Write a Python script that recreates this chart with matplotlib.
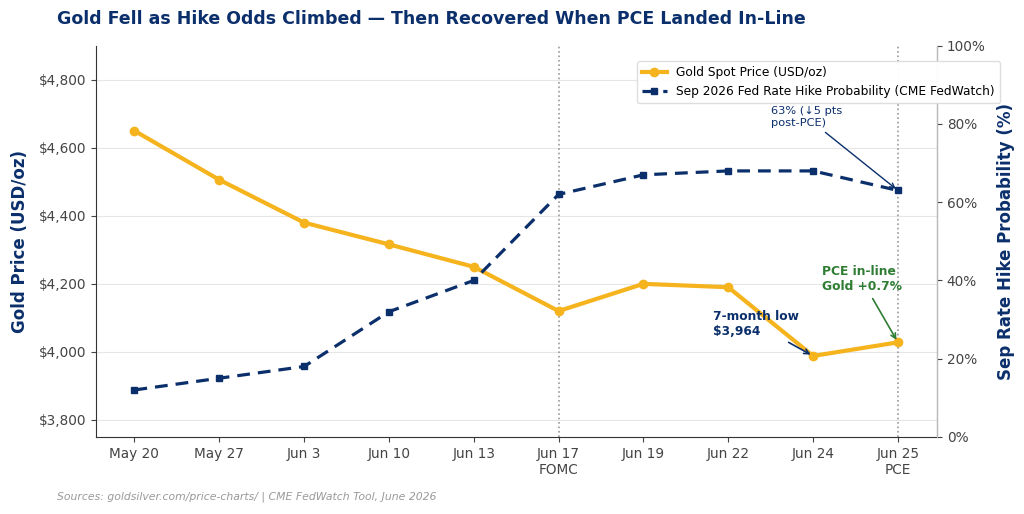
import matplotlib
matplotlib.use("Agg")
import matplotlib.pyplot as plt
from matplotlib.ticker import FuncFormatter

dates = ["May 20", "May 27", "Jun 3", "Jun 10", "Jun 13", "Jun 17\nFOMC", "Jun 19", "Jun 22", "Jun 24", "Jun 25\nPCE"]
gold = [4650, 4506, 4380, 4316, 4250, 4120, 4200, 4190, 3988, 4028]
hike = [12, 15, 18, 32, 40, 62, 67, 68, 68, 63]

GOLD = "#F5B41E"
NAVY = "#0B2F6B"
GREEN = "#2E7D32"

plt.rcParams['font.family'] = ['DejaVu Sans']
fig = plt.figure(figsize=(10.24, 5.14), dpi=100)
ax = fig.add_axes([0.094, 0.150, 0.821, 0.761])
ax2 = ax.twinx()

x = list(range(len(dates)))
l1, = ax.plot(x, gold, color=GOLD, lw=3, marker='o', ms=6, label="Gold Spot Price (USD/oz)", zorder=3)
l2, = ax2.plot(x, hike, color=NAVY, lw=2.3, ls=(0, (4, 2.5)), marker='s', ms=5, label="Sep 2026 Fed Rate Hike Probability (CME FedWatch)", zorder=3)

ax.set_xlim(-0.45, 9.46)
ax.set_ylim(3750, 4900)
ax2.set_ylim(0, 100)
ax.set_yticks([3800, 4000, 4200, 4400, 4600, 4800])
ax.yaxis.set_major_formatter(FuncFormatter(lambda v, p: f"${v:,.0f}"))
ax2.set_yticks([0, 20, 40, 60, 80, 100])
ax2.yaxis.set_major_formatter(FuncFormatter(lambda v, p: f"{v:.0f}%"))
ax.set_xticks(x)
ax.set_xticklabels(dates)

ax.grid(axis='y', color='#e6e6e6', lw=0.8)
ax.set_axisbelow(True)
for xi in (5, 9):
    ax.axvline(xi, color='#999999', ls=':', lw=1.2, zorder=1)

for a in (ax, ax2):
    a.spines['top'].set_visible(False)
    a.tick_params(colors='#444444', labelsize=9.8)
ax.spines['left'].set_color('#333333')
ax.spines['bottom'].set_color('#333333')
ax2.spines['left'].set_visible(False)
ax2.spines['bottom'].set_visible(False)
ax2.spines['right'].set_color('#bbbbbb')

ax.set_ylabel("Gold Price (USD/oz)", color=NAVY, fontsize=12, fontweight='bold', labelpad=7)
ax2.set_ylabel("Sep Rate Hike Probability (%)", color=NAVY, fontsize=12, fontweight='bold', labelpad=8)

fig.text(0.056, 0.963, "Gold Fell as Hike Odds Climbed — Then Recovered When PCE Landed In-Line",
         color=NAVY, fontsize=12.5, fontweight='bold', va='center', ha='left')
fig.text(0.056, 0.033, "Sources: goldsilver.com/price-charts/ | CME FedWatch Tool, June 2026",
         color='#999999', fontsize=7.8, style='italic', va='center', ha='left')

ax.annotate("7-month low\n$3,964", xy=(8, gold[8]), xytext=(6.82, 4040),
            color=NAVY, fontsize=8.8, fontweight='bold', ha='left', va='bottom',
            arrowprops=dict(arrowstyle='->', color=NAVY, lw=1.2))
ax.annotate("PCE in-line\nGold +0.7%", xy=(9, gold[9]), xytext=(8.1, 4172),
            color=GREEN, fontsize=8.8, fontweight='bold', ha='left', va='bottom',
            arrowprops=dict(arrowstyle='->', color=GREEN, lw=1.2))
ax2.annotate("63% (↓5 pts\npost-PCE)", xy=(9, hike[9]), xytext=(7.5, 79),
             color=NAVY, fontsize=8.2, ha='left', va='bottom',
             arrowprops=dict(arrowstyle='->', color=NAVY, lw=1.0))

leg = ax2.legend(handles=[l1, l2], loc='upper right', bbox_to_anchor=(1.075, 0.96), fontsize=8.8,
                 frameon=True, framealpha=0.95, edgecolor='#dddddd', borderpad=0.4,
                 handlelength=2.0, borderaxespad=0.0)

fig.savefig("out.png", dpi=100)
